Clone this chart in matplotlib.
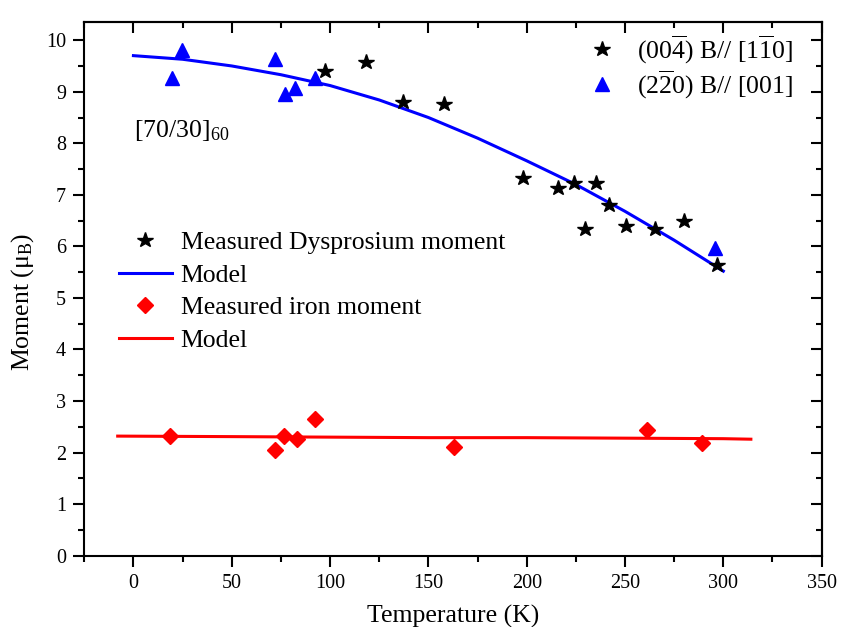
import matplotlib
matplotlib.use("Agg")
import matplotlib.pyplot as plt
from matplotlib.ticker import MultipleLocator

plt.rcParams['font.family'] = ['Liberation Serif', 'DejaVu Serif']
plt.rcParams['mathtext.fontset'] = 'custom'
plt.rcParams['mathtext.rm'] = 'Liberation Serif'
plt.rcParams['mathtext.it'] = 'Liberation Serif:italic'
plt.rcParams['mathtext.bf'] = 'Liberation Serif:bold'

# ---- data ----
dy_T = [97.6, 118.1, 136.9, 157.8, 198.0, 215.8, 223.9, 235.1, 241.7, 229.5, 250.4, 265.1, 279.9, 296.7]
dy_M = [9.41, 9.57, 8.81, 8.77, 7.33, 7.14, 7.22, 7.22, 6.81, 6.34, 6.40, 6.34, 6.49, 5.63]

tri_T = [24.8, 19.7, 71.9, 77.0, 82.3, 92.4, 295.7]
tri_M = [9.80, 9.26, 9.63, 8.95, 9.07, 9.27, 5.97]

fe_T = [18.8, 72.1, 76.8, 83.1, 92.1, 163.0, 261.4, 289.4]
fe_M = [2.32, 2.05, 2.33, 2.26, 2.65, 2.11, 2.43, 2.18]

dy_model_T = [0, 25, 50, 75, 100, 125, 150, 175, 200, 225, 250, 275, 300]
dy_model_M = [9.70, 9.63, 9.50, 9.33, 9.12, 8.84, 8.50, 8.10, 7.66, 7.20, 6.68, 6.12, 5.52]

fe_model_T = [-8, 50, 100, 150, 200, 250, 300, 314]
fe_model_M = [2.32, 2.31, 2.30, 2.29, 2.29, 2.28, 2.27, 2.26]

xticks = [0, 50, 100, 150, 200, 250, 300, 350]

# ---- figure ----
fig = plt.figure(figsize=(8.41, 6.27), dpi=100)
ax = fig.add_axes([0.1002, 0.1137, 0.8768, 0.851])

line_dy, = ax.plot(dy_model_T, dy_model_M, color='#0000ff', lw=2.2, zorder=2)
line_fe, = ax.plot(fe_model_T, fe_model_M, color='#ff0000', lw=2.2, zorder=2)
stars, = ax.plot(dy_T, dy_M, ls='none', marker='*', color='black', ms=11.5, zorder=3)
tris, = ax.plot(tri_T, tri_M, ls='none', marker='^', color='#0000ff', ms=10.5, zorder=3)
dias, = ax.plot(fe_T, fe_M, ls='none', marker='D', color='#ff0000', ms=8, zorder=3)

ax.set_xlim(-25, 350)
ax.set_ylim(0, 10.35)
ax.set_xticks(xticks)
ax.xaxis.set_minor_locator(MultipleLocator(25))
ax.yaxis.set_major_locator(MultipleLocator(1))
ax.yaxis.set_minor_locator(MultipleLocator(0.5))

for s in ax.spines.values():
    s.set_linewidth(1.5)

ax.tick_params(which='both', direction='out', top=False, right=False, width=1.5,
               labelsize=14.5, pad=5)
ax.tick_params(which='major', length=8)
ax.tick_params(which='minor', length=4)

axt = ax.secondary_xaxis('top')
axt.set_xticks(xticks)
axt.xaxis.set_minor_locator(MultipleLocator(25))
axt.tick_params(which='both', direction='in', labeltop=False, width=1.5)
axt.tick_params(which='major', length=8)
axt.tick_params(which='minor', length=4)
axr = ax.secondary_yaxis('right')
axr.yaxis.set_major_locator(MultipleLocator(1))
axr.yaxis.set_minor_locator(MultipleLocator(0.5))
axr.tick_params(which='both', direction='in', labelright=False, width=1.5)
axr.tick_params(which='major', length=8)
axr.tick_params(which='minor', length=4)
for a in (axt, axr):
    for s in a.spines.values():
        s.set_linewidth(1.5)

ax.set_xlabel('Temperature (K)', fontsize=18.5, labelpad=9)
ax.set_ylabel('Moment (μ$_\\mathrm{B}$)', fontsize=18.5, labelpad=7)
ax.yaxis.set_label_coords(-0.065, 0.475)

ax.text(0.3, 8.13, r'[70/30]$_{60}$', fontsize=18.5, ha='left', va='baseline')

leg1 = ax.legend([stars, tris],
                 [r'(00$\overline{\mathrm{4}}$) B// [1$\overline{\mathrm{1}}$0]',
                  r'(2$\overline{\mathrm{2}}$0) B// [001]'],
                 loc='upper left', bbox_to_anchor=(0.666, 0.979), frameon=False,
                 fontsize=18.5, handlelength=2.05, handletextpad=0.35,
                 labelspacing=0.12, borderpad=0, borderaxespad=0)
ax.add_artist(leg1)

ax.legend([stars, line_dy, dias, line_fe],
          ['Measured Dysprosium moment', 'Model', 'Measured iron moment', 'Model'],
          loc='upper left', bbox_to_anchor=(0.047, 0.608), frameon=False,
          fontsize=18.5, handlelength=2.05, handletextpad=0.35,
          labelspacing=0.37, borderpad=0, borderaxespad=0)

fig.savefig('out.png', dpi=100)
